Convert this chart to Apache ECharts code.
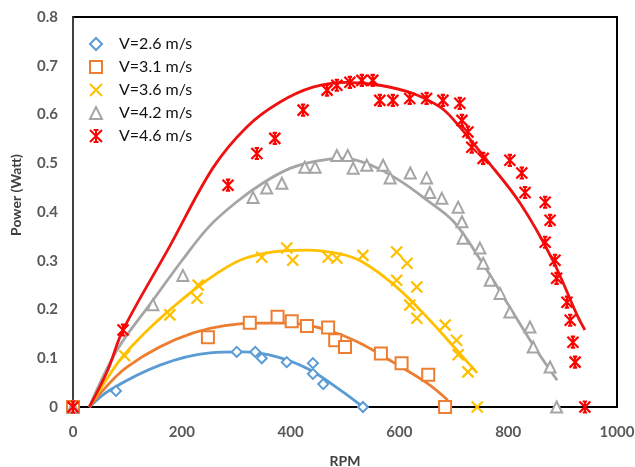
<!DOCTYPE html>
<html><head><meta charset="utf-8">
<script src="https://cdn.jsdelivr.net/npm/echarts@6/dist/echarts.min.js"></script>
<style>html,body{margin:0;padding:0;background:#fff}#c{width:635px;height:467px}</style>
</head><body><div id="c"></div>
<script>
// Data: [RPM, Power (W)]
const names = ['V=2.6 m/s','V=3.1 m/s','V=3.6 m/s','V=4.2 m/s','V=4.6 m/s'];
const xTicks = [0,200,400,600,800,1000];
const yTicks = [0,0.1,0.2,0.3,0.4,0.5,0.6,0.7,0.8];

const v26 = [[0,0],[79,0.033],[301,0.113],[335,0.113],[347,0.100],[393,0.092],[441,0.090],[441,0.068],[460,0.047],[533,0]];
const v31 = [[0,0],[248,0.143],[325,0.173],[376,0.185],[402,0.176],[430,0.166],[469,0.163],[482,0.137],[500,0.123],[566,0.110],[604,0.090],[653,0.066],[684,0]];
const v36 = [[0,0],[95,0.105],[178,0.189],[228,0.223],[230,0.250],[347,0.307],[393,0.326],[404,0.301],[469,0.307],[485,0.305],[533,0.311],[595,0.318],[614,0.295],[595,0.260],[632,0.246],[619,0.209],[632,0.182],[684,0.168],[705,0.137],[708,0.107],[726,0.072],[743,0]];
const v42 = [[0,0],[147,0.210],[202,0.270],[331,0.430],[356,0.449],[384,0.459],[426,0.492],[445,0.492],[485,0.516],[505,0.516],[515,0.490],[540,0.496],[570,0.496],[583,0.470],[620,0.480],[650,0.470],[656,0.440],[678,0.428],[708,0.410],[715,0.380],[717,0.346],[748,0.326],[754,0.295],[767,0.260],[785,0.233],[803,0.195],[840,0.164],[846,0.123],[877,0.082],[889,0]];
const v46 = [[0,0],[92,0.158],[285,0.455],[338,0.520],[371,0.551],[423,0.609],[467,0.650],[485,0.660],[509,0.666],[531,0.670],[551,0.670],[564,0.629],[588,0.629],[619,0.633],[650,0.633],[680,0.629],[711,0.623],[715,0.588],[726,0.564],[733,0.533],[754,0.510],[803,0.506],[825,0.480],[831,0.440],[868,0.420],[877,0.383],[868,0.338],[886,0.301],[889,0.264],[908,0.215],[914,0.178],[919,0.133],[923,0.092],[941,0]];

// Trendlines
const fit26 = [[30,0],[68,0.035],[160,0.086],[252,0.111],[312,0.113],[375,0.103],[436,0.076],[496,0.031],[533,0]];
const fit31 = [[30,0],[99,0.082],[221,0.152],[344,0.172],[400,0.172],[467,0.158],[528,0.131],[588,0.092],[651,0.049],[689,0.014]];
const fit36 = [[30,0],[86,0.096],[130,0.150],[184,0.205],[246,0.260],[307,0.301],[368,0.318],[430,0.322],[491,0.314],[533,0.297],[595,0.246],[656,0.178],[717,0.102],[743,0.070]];
const fit42 = [[30,0],[81,0.117],[147,0.219],[200,0.300],[250,0.370],[300,0.420],[350,0.460],[400,0.490],[450,0.505],[500,0.510],[550,0.495],[600,0.465],[650,0.425],[700,0.380],[750,0.300],[800,0.210],[850,0.120],[890,0.055]];
const fit46 = [[30,0],[64,0.076],[92,0.158],[178,0.330],[257,0.490],[320,0.575],[380,0.625],[441,0.656],[503,0.666],[564,0.660],[625,0.643],[675,0.615],[699,0.590],[761,0.506],[822,0.418],[882,0.301],[926,0.190],[941,0.158]];

const colors = ['#5B9BD5','#ED7D31','#FFC000','#A5A5A5','#FF0000'];
const lineColors = ['#5B9BD5','#ED7D31','#FFC000','#A5A5A5','#EE1111'];
const symbols = ['emptyDiamond','emptyRect','path://M0,0L10,10M10,0L0,10','emptyTriangle','path://M0,0L10,10M10,0L0,10M5,0L5,10M3,0L7,0M3,10L7,10'];
const sizes = [10,12,11,11,11];
const scat = [v26,v31,v36,v42,v46];
const fits = [fit26,fit31,fit36,fit42,fit46];

const series = [];
fits.forEach((d,i)=>series.push({
  name:'fit'+i, type:'line', data:d, smooth:0.35, showSymbol:false, silent:true,
  lineStyle:{color:lineColors[i], width:2.8}, z:2
}));
scat.forEach((d,i)=>series.push({
  name:names[i], type:'scatter', data:d, symbol:symbols[i], symbolSize:sizes[i],
  itemStyle:{color:colors[i], borderColor:colors[i], borderWidth:(i===2||i===4)?2.2:1.6, opacity:1}, z:3
}));

const chart = echarts.init(document.getElementById('c'));
const lblFont = 'Lato, "Open Sans", sans-serif';
chart.setOption({
  animation:false,
  backgroundColor:'#fff',
  grid:{left:73, right:18, top:17, bottom:60, containLabel:false, outerBoundsMode:'none',
        show:true, borderColor:'#000', borderWidth:2, backgroundColor:'transparent'},
  legend:{
    data:names, orient:'vertical', left:84, top:31, itemWidth:12, itemHeight:12, itemGap:7,
    textStyle:{fontSize:16, lineHeight:16, color:'#111', fontFamily:lblFont, padding:[0,0,0,12]}
  },
  graphic:[{
    type:'text', x:16, y:195, rotation:Math.PI/2,
    style:{text:'Power (Watt)', fontSize:14, fontWeight:'bold', fill:'#404040', fontFamily:lblFont,
           align:'center', verticalAlign:'middle'}
  }],
  xAxis:{
    type:'value', min:0, max:1000, interval:200,
    name:'RPM', nameLocation:'middle', nameGap:47,
    nameTextStyle:{fontSize:14, fontWeight:'bold', color:'#404040', fontFamily:lblFont},
    axisLine:{onZero:false, lineStyle:{color:'#000', width:2}},
    axisTick:{show:false}, splitLine:{show:false},
    axisLabel:{fontSize:15, fontWeight:'bold', color:'#595959', fontFamily:lblFont, margin:18,
      formatter:v=>xTicks.includes(v)?String(v):''}
  },
  yAxis:{
    type:'value', min:0, max:0.8, interval:0.1,
    axisLine:{show:true, lineStyle:{color:'#404040', width:2}},
    axisTick:{show:false}, splitLine:{show:false},
    axisLabel:{fontSize:15, fontWeight:'bold', color:'#595959', fontFamily:lblFont, margin:15,
      formatter:v=>{const t=yTicks.find(k=>Math.abs(k-v)<1e-9); return t===undefined?'':(t===0?'0':t.toFixed(1));}}
  },
  series:series
});
</script></body></html>
